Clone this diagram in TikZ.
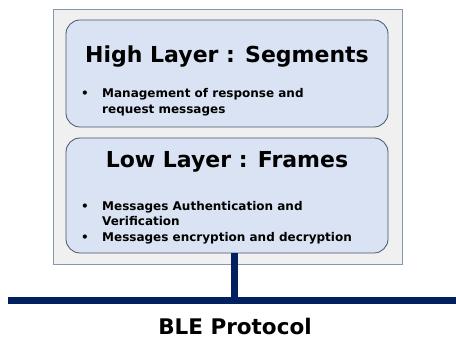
\documentclass[tikz,border=0pt]{standalone}
\usepackage{fontspec}
\setmainfont{DejaVu Sans}
\definecolor{navy}{HTML}{002060}
\definecolor{outerfill}{HTML}{F0F0F0}
\definecolor{outerline}{HTML}{8496B0}
\definecolor{layerfill}{HTML}{DAE3F3}
\definecolor{layerline}{HTML}{44546A}
\tikzset{
  outerbox/.style={draw=outerline, fill=outerfill, line width=0.8pt},
  layerbox/.style={draw=layerline, fill=layerfill, rounded corners=14pt, line width=0.8pt},
  titletext/.style={font=\bfseries\fontsize{22}{25}\selectfont, inner sep=0pt, anchor=base},
  bullettext/.style={font=\bfseries\fontsize{12}{15.7}\selectfont, inner sep=0pt, anchor=base west, align=left},
  busline/.style={draw=navy, line width=7pt}
}
\begin{document}
\begin{tikzpicture}[x=1pt,y=-1pt]
\useasboundingbox (0,0) rectangle (456,339);
\draw[outerbox] (53,9.5) rectangle (402,264.5);
\path[layerbox] (66,20) rectangle (388,127);
\path[layerbox] (66,138) rectangle (388,253);
\node[titletext] (hightitle) at (227,63) {High Layer : Segments};
\node[bullettext] (highb) at (81,113.3) {%
\makebox[21pt][l]{\textbullet}Management of response and\\
\makebox[21pt][l]{}request messages};
\node[titletext] (lowtitle) at (227,168) {Low Layer : Frames};
\node[bullettext] (lowb) at (81,241.5) {%
\makebox[21pt][l]{\textbullet}Messages Authentication and\\
\makebox[21pt][l]{}Verification\\
\makebox[21pt][l]{\textbullet}Messages encryption and decryption};
\coordinate (tap) at (234,253);
\coordinate (busl) at (8,301);
\coordinate (busr) at (456,301);
\coordinate (tapend) at (234,301);
\draw[busline] (busl) -- (busr);
\draw[busline] (tap) -- (tapend);
\node[font=\bfseries\fontsize{21.5}{24}\selectfont, inner sep=0pt, anchor=base] (ble) at (235,335) {BLE Protocol};
\end{tikzpicture}
\end{document}
